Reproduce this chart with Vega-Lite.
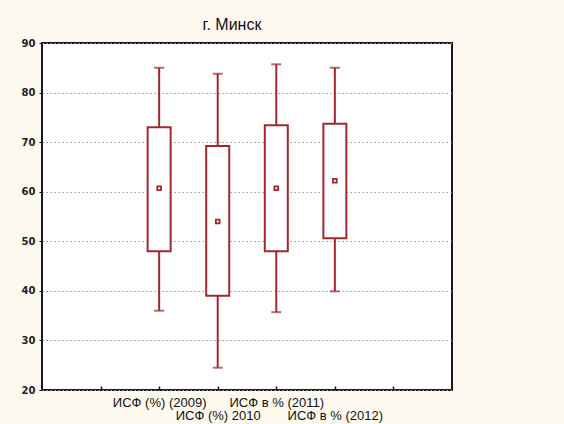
{
  "$schema": "https://vega.github.io/schema/vega-lite/v6.json",
  "width": 410,
  "height": 347,
  "autosize": {"type": "none"},
  "padding": {"left": 42, "top": 43, "right": 112, "bottom": 34},
  "background": "#fdf9ef",
  "title": {
    "text": "г. Минск",
    "font": "Liberation Sans",
    "fontSize": 16,
    "fontWeight": "normal",
    "color": "#111111",
    "anchor": "middle",
    "dx": -15,
    "dy": 20,
    "offset": 12,
    "baseline": "alphabetic"
  },
  "data": {
    "values": [
      {"label": "ИСФ (%) (2009)", "min": 36, "q1": 48, "q3": 73, "max": 85, "mean": 60.7},
      {"label": "ИСФ (%) 2010", "min": 24.5, "q1": 39, "q3": 69.2, "max": 83.8, "mean": 54},
      {"label": "ИСФ в % (2011)", "min": 35.7, "q1": 48, "q3": 73.4, "max": 85.7, "mean": 60.7},
      {"label": "ИСФ в % (2012)", "min": 39.9, "q1": 50.6, "q3": 73.7, "max": 85, "mean": 62.2}
    ]
  },
  "encoding": {
    "x": {
      "field": "label",
      "type": "nominal",
      "sort": null,
      "scale": {
        "type": "point",
        "padding": 1,
        "domain": [" ", "ИСФ (%) (2009)", "ИСФ (%) 2010", "ИСФ в % (2011)", "ИСФ в % (2012)", "  "]
      },
      "axis": {
        "title": null,
        "domain": false,
        "labelAngle": 0,
        "labelFont": "Liberation Sans",
        "labelFontSize": 13,
        "labelColor": "#111111",
        "labelLineHeight": 13.5,
        "labelBaseline": "top",
        "labelPadding": 10,
        "tickSize": -4,
        "tickColor": "#111111",
        "tickWidth": 1.5,
        "labelExpr": "(datum.value == 'ИСФ (%) 2010' || datum.value == 'ИСФ в % (2012)') ? ['', datum.label] : datum.label"
      }
    }
  },
  "layer": [
    {
      "mark": {"type": "rule", "color": "#a3282d", "strokeWidth": 2},
      "encoding": {
        "y": {
          "field": "min",
          "type": "quantitative",
          "scale": {"domain": [20, 90], "nice": false, "zero": false},
          "axis": {
            "title": null,
            "values": [20, 30, 40, 50, 60, 70, 80, 90],
            "domain": false,
            "grid": true,
            "gridDash": [1.5, 2.5],
            "gridColor": "#9a9a9a",
            "gridWidth": 1,
            "labelFont": "DejaVu Sans",
            "labelFontWeight": "bold",
            "labelFontSize": 10,
            "labelColor": "#222222",
            "labelPadding": 4,
            "tickSize": 3,
            "tickColor": "#111111"
          }
        },
        "y2": {"field": "max"}
      }
    },
    {
      "mark": {"type": "bar", "size": 23, "fill": "white", "stroke": "#a3282d", "strokeWidth": 2},
      "encoding": {
        "y": {"field": "q1", "type": "quantitative"},
        "y2": {"field": "q3"}
      }
    },
    {
      "mark": {"type": "tick", "size": 10, "thickness": 2, "color": "#a3282d"},
      "encoding": {"y": {"field": "min", "type": "quantitative"}}
    },
    {
      "mark": {"type": "tick", "size": 10, "thickness": 2, "color": "#a3282d"},
      "encoding": {"y": {"field": "max", "type": "quantitative"}}
    },
    {
      "mark": {"type": "point", "shape": "square", "size": 14, "filled": false, "stroke": "#a3282d", "strokeWidth": 1.8, "opacity": 1},
      "encoding": {"y": {"field": "mean", "type": "quantitative"}}
    }
  ],
  "config": {
    "view": {"fill": "white", "stroke": "#1a1a1a", "strokeWidth": 2}
  }
}
